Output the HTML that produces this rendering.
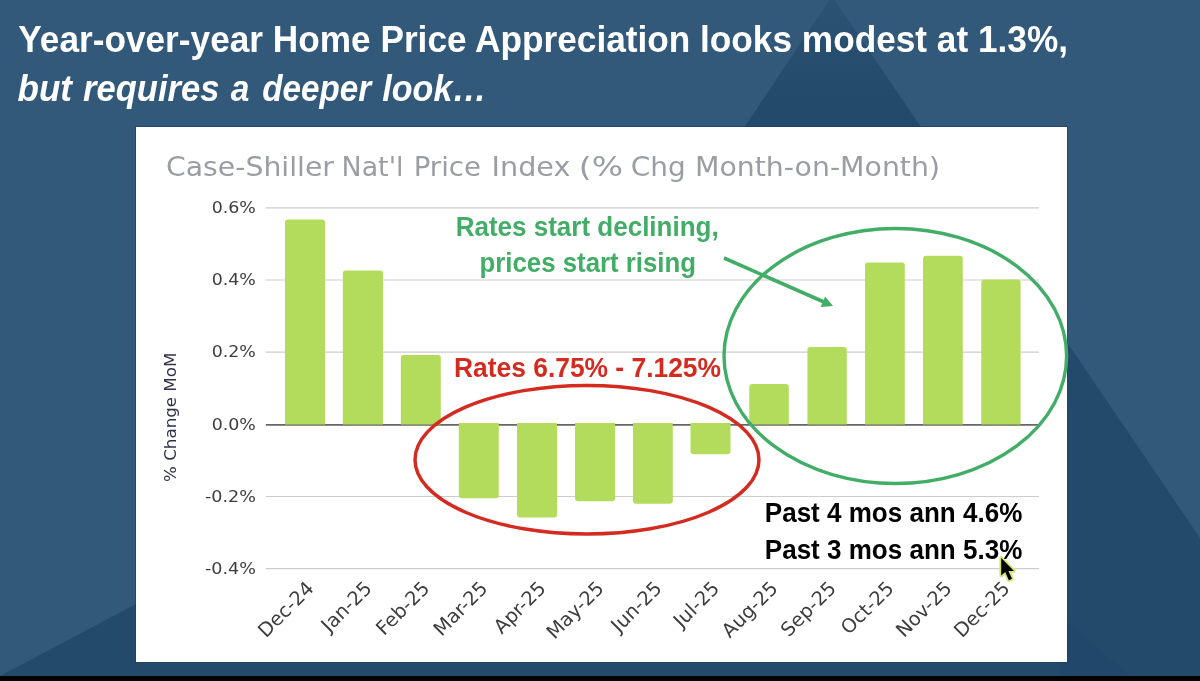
<!DOCTYPE html>
<html lang="en">
<head>
<meta charset="utf-8">
<title>Year-over-year Home Price Appreciation</title>
<style>
html,body{margin:0;padding:0;background:#000;}
body{width:1200px;height:681px;overflow:hidden;position:relative;}
svg{position:absolute;left:0;top:0;display:block;}
.cal{font-family:"Liberation Sans",sans-serif;font-weight:bold;}
.ver{font-family:"DejaVu Sans","Liberation Sans",sans-serif;}
</style>
</head>
<body>
<svg width="1200" height="681" viewBox="0 0 1200 681">

<rect x="0" y="0" width="1200" height="676" fill="#32597a"/>
<defs><linearGradient id="mg" gradientUnits="userSpaceOnUse" x1="0" y1="0" x2="0" y2="100"><stop offset="0" stop-color="#2b5174"/><stop offset="1" stop-color="#244a6b"/></linearGradient></defs>
<polygon points="832,-4 1200,538 1200,676 0,676 136,604 136,127 744.5,127" fill="url(#mg)"/>
<polygon points="1060,615 1130,676 1060,676" fill="#21476a"/>
<rect x="0" y="676.2" width="1200" height="5" fill="#000"/>
<rect x="135.4" y="126.4" width="932.1" height="536.1" fill="#1f3d60"/>
<rect x="136" y="127" width="931" height="535" fill="#ffffff"/>
<text class="cal" x="18.3" y="51.7" font-size="37.2" fill="#fff" textLength="1049.7" lengthAdjust="spacingAndGlyphs">Year-over-year Home Price Appreciation looks modest at 1.3%,</text>
<text class="cal" y="100.8" font-size="37.2" fill="#fff" font-style="italic"><tspan x="17.5" textLength="54.5" lengthAdjust="spacingAndGlyphs">but</tspan> <tspan x="83.0" textLength="136.5" lengthAdjust="spacingAndGlyphs">requires</tspan> <tspan x="230.7" textLength="18.6" lengthAdjust="spacingAndGlyphs">a</tspan> <tspan x="262.3" textLength="109.0" lengthAdjust="spacingAndGlyphs">deeper</tspan> <tspan x="382.3" textLength="104.2" lengthAdjust="spacingAndGlyphs">look…</tspan></text>
<text class="ver" y="176.2" font-size="27" fill="#9a9da3"><tspan x="166.0" textLength="168.0" lengthAdjust="spacingAndGlyphs">Case-Shiller</tspan> <tspan x="341.6" textLength="61.9" lengthAdjust="spacingAndGlyphs">Nat'l</tspan> <tspan x="413.7" textLength="67.3" lengthAdjust="spacingAndGlyphs">Price</tspan> <tspan x="491.5" textLength="79.0" lengthAdjust="spacingAndGlyphs">Index</tspan> <tspan x="578.8" textLength="44.2" lengthAdjust="spacingAndGlyphs">(%</tspan> <tspan x="630.8" textLength="55.0" lengthAdjust="spacingAndGlyphs">Chg</tspan> <tspan x="695.0" textLength="245.0" lengthAdjust="spacingAndGlyphs">Month-on-Month)</tspan></text>
<line x1="265.8" x2="1039" y1="207.9" y2="207.9" stroke="#cdcdcd" stroke-width="1.1"/>
<line x1="265.8" x2="1039" y1="280.0" y2="280.0" stroke="#cdcdcd" stroke-width="1.1"/>
<line x1="265.8" x2="1039" y1="352.1" y2="352.1" stroke="#cdcdcd" stroke-width="1.1"/>
<line x1="265.8" x2="1039" y1="496.5" y2="496.5" stroke="#cdcdcd" stroke-width="1.1"/>
<line x1="265.8" x2="1039" y1="568.6" y2="568.6" stroke="#cdcdcd" stroke-width="1.1"/>
<line x1="265.8" x2="1039" y1="424.8" y2="424.8" stroke="#666666" stroke-width="1.7"/>
<text class="ver" x="211.7" y="213.2" font-size="16.4" fill="#3d3d3d" textLength="44.2" lengthAdjust="spacingAndGlyphs">0.6%</text>
<text class="ver" x="211.7" y="285.3" font-size="16.4" fill="#3d3d3d" textLength="44.2" lengthAdjust="spacingAndGlyphs">0.4%</text>
<text class="ver" x="211.7" y="357.4" font-size="16.4" fill="#3d3d3d" textLength="44.2" lengthAdjust="spacingAndGlyphs">0.2%</text>
<text class="ver" x="211.7" y="429.6" font-size="16.4" fill="#3d3d3d" textLength="44.2" lengthAdjust="spacingAndGlyphs">0.0%</text>
<text class="ver" x="204.9" y="501.8" font-size="16.4" fill="#3d3d3d" textLength="51.0" lengthAdjust="spacingAndGlyphs">-0.2%</text>
<text class="ver" x="204.9" y="573.9" font-size="16.4" fill="#3d3d3d" textLength="51.0" lengthAdjust="spacingAndGlyphs">-0.4%</text>
<text class="ver" font-size="16.7" fill="#2e3348" text-anchor="middle" transform="translate(176,417.3) rotate(-90)">% Change MoM</text>
<path d="M285.0,424.5 L285.0,222.5 Q285.0,219.5 288.0,219.5 L322.0,219.5 Q325.0,219.5 325.0,222.5 L325.0,424.5 Z" fill="#b4dc5c"/>
<path d="M342.8,424.5 L342.8,273.5 Q342.8,270.5 345.8,270.5 L380.0,270.5 Q383.0,270.5 383.0,273.5 L383.0,424.5 Z" fill="#b4dc5c"/>
<path d="M400.8,424.5 L400.8,358.0 Q400.8,355.0 403.8,355.0 L437.8,355.0 Q440.8,355.0 440.8,358.0 L440.8,424.5 Z" fill="#b4dc5c"/>
<path d="M458.8,423.1 L458.8,495.2 Q458.8,498.2 461.8,498.2 L495.8,498.2 Q498.8,498.2 498.8,495.2 L498.8,423.1 Z" fill="#b4dc5c"/>
<path d="M517.0,423.1 L517.0,514.5 Q517.0,517.5 520.0,517.5 L554.0,517.5 Q557.0,517.5 557.0,514.5 L557.0,423.1 Z" fill="#b4dc5c"/>
<path d="M575.0,423.1 L575.0,498.2 Q575.0,501.2 578.0,501.2 L612.0,501.2 Q615.0,501.2 615.0,498.2 L615.0,423.1 Z" fill="#b4dc5c"/>
<path d="M633.0,423.1 L633.0,500.8 Q633.0,503.8 636.0,503.8 L669.8,503.8 Q672.8,503.8 672.8,500.8 L672.8,423.1 Z" fill="#b4dc5c"/>
<path d="M690.5,423.1 L690.5,451.2 Q690.5,454.2 693.5,454.2 L727.5,454.2 Q730.5,454.2 730.5,451.2 L730.5,423.1 Z" fill="#b4dc5c"/>
<path d="M749.3,424.5 L749.3,387.0 Q749.3,384.0 752.3,384.0 L785.8,384.0 Q788.8,384.0 788.8,387.0 L788.8,424.5 Z" fill="#b4dc5c"/>
<path d="M807.4,424.5 L807.4,350.0 Q807.4,347.0 810.4,347.0 L843.8,347.0 Q846.8,347.0 846.8,350.0 L846.8,424.5 Z" fill="#b4dc5c"/>
<path d="M865.0,424.5 L865.0,265.5 Q865.0,262.5 868.0,262.5 L901.8,262.5 Q904.8,262.5 904.8,265.5 L904.8,424.5 Z" fill="#b4dc5c"/>
<path d="M923.0,424.5 L923.0,258.7 Q923.0,255.7 926.0,255.7 L959.8,255.7 Q962.8,255.7 962.8,258.7 L962.8,424.5 Z" fill="#b4dc5c"/>
<path d="M981.3,424.5 L981.3,282.4 Q981.3,279.4 984.3,279.4 L1017.6,279.4 Q1020.6,279.4 1020.6,282.4 L1020.6,424.5 Z" fill="#b4dc5c"/>
<text class="ver" font-size="19.4" fill="#3d3d3d" text-anchor="end" transform="translate(315.0,589.5) rotate(-45)">Dec-24</text>
<text class="ver" font-size="19.4" fill="#3d3d3d" text-anchor="end" transform="translate(372.9,589.5) rotate(-45)">Jan-25</text>
<text class="ver" font-size="19.4" fill="#3d3d3d" text-anchor="end" transform="translate(430.8,589.5) rotate(-45)">Feb-25</text>
<text class="ver" font-size="19.4" fill="#3d3d3d" text-anchor="end" transform="translate(488.8,589.5) rotate(-45)">Mar-25</text>
<text class="ver" font-size="19.4" fill="#3d3d3d" text-anchor="end" transform="translate(547.0,589.5) rotate(-45)">Apr-25</text>
<text class="ver" font-size="19.4" fill="#3d3d3d" text-anchor="end" transform="translate(605.0,589.5) rotate(-45)">May-25</text>
<text class="ver" font-size="19.4" fill="#3d3d3d" text-anchor="end" transform="translate(662.9,589.5) rotate(-45)">Jun-25</text>
<text class="ver" font-size="19.4" fill="#3d3d3d" text-anchor="end" transform="translate(720.5,589.5) rotate(-45)">Jul-25</text>
<text class="ver" font-size="19.4" fill="#3d3d3d" text-anchor="end" transform="translate(779.0,589.5) rotate(-45)">Aug-25</text>
<text class="ver" font-size="19.4" fill="#3d3d3d" text-anchor="end" transform="translate(837.1,589.5) rotate(-45)">Sep-25</text>
<text class="ver" font-size="19.4" fill="#3d3d3d" text-anchor="end" transform="translate(894.9,589.5) rotate(-45)">Oct-25</text>
<text class="ver" font-size="19.4" fill="#3d3d3d" text-anchor="end" transform="translate(952.9,589.5) rotate(-45)">Nov-25</text>
<text class="ver" font-size="19.4" fill="#3d3d3d" text-anchor="end" transform="translate(1011.0,589.5) rotate(-45)">Dec-25</text>
<ellipse cx="587" cy="459.7" rx="172" ry="74.3" fill="none" stroke="#d42b20" stroke-width="3.5"/>
<ellipse cx="895.3" cy="356" rx="171.3" ry="127.5" fill="none" stroke="#42ad66" stroke-width="3.4"/>
<line x1="724" y1="258" x2="824" y2="302" stroke="#42ad66" stroke-width="3.6"/>
<polygon points="833,306 820.6,307 825.2,296.6" fill="#42ad66"/>
<text class="cal" x="587.2" y="235.9" font-size="27" fill="#42ad66" text-anchor="middle" textLength="263" lengthAdjust="spacingAndGlyphs">Rates start declining,</text>
<text class="cal" x="587.8" y="272" font-size="27" fill="#42ad66" text-anchor="middle" textLength="216.5" lengthAdjust="spacingAndGlyphs">prices start rising</text>
<text class="cal" x="454" y="376.9" font-size="27" fill="#d42b20" textLength="267" lengthAdjust="spacingAndGlyphs">Rates 6.75% - 7.125%</text>
<text class="cal" x="764.8" y="522.2" font-size="27" fill="#000" textLength="257.5" lengthAdjust="spacingAndGlyphs">Past 4 mos ann 4.6%</text>
<text class="cal" x="764.8" y="559" font-size="27" fill="#000" textLength="257.5" lengthAdjust="spacingAndGlyphs">Past 3 mos ann 5.3%</text>
<polygon points="1001.2,558 1001.2,575.6 1005.2,571.9 1008.9,580.2 1012,578.8 1008.4,570.9 1014,570.9" fill="#000" stroke="#d6e272" stroke-width="3.6" stroke-linejoin="round" paint-order="stroke"/>
</svg>
</body>
</html>
